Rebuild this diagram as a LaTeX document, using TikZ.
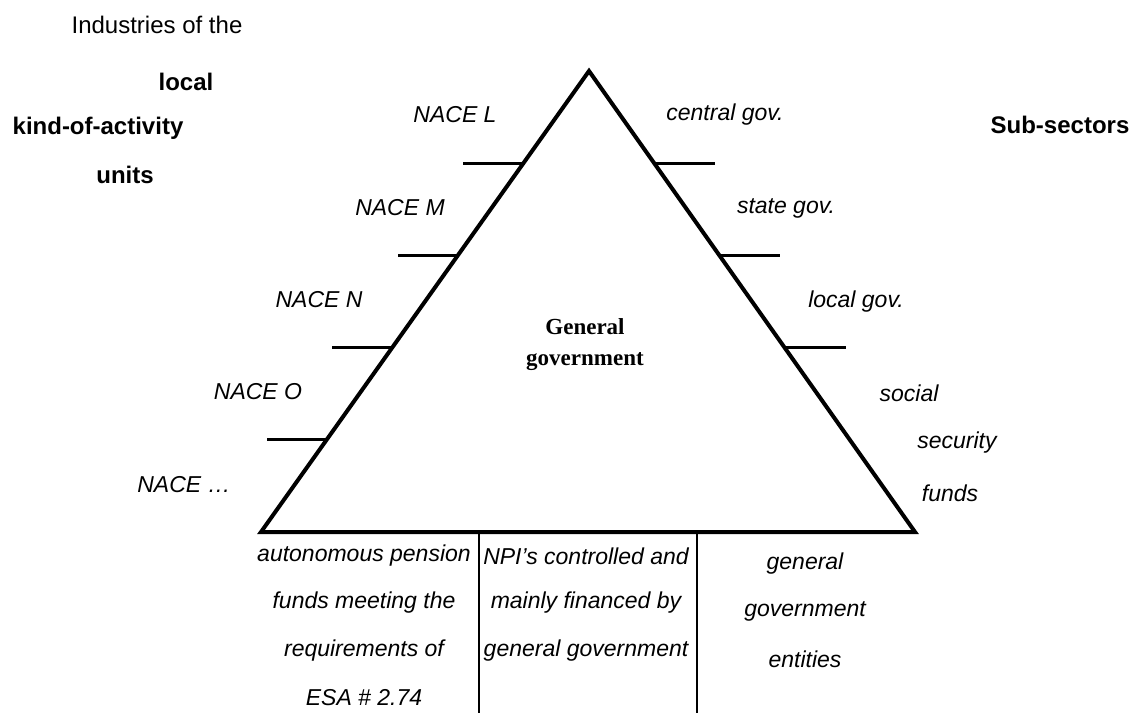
\documentclass[tikz,border=0pt]{standalone}
\usepackage{fontspec}
\setmainfont{Liberation Sans}
\newfontfamily\serifbold{Liberation Serif}
\usetikzlibrary{calc}
\begin{document}
\begin{tikzpicture}[x=1pt,y=-1pt,
  lab/.style={font=\fontsize{23}{27}\selectfont\itshape, inner sep=0pt},
  head/.style={font=\fontsize{24}{28}\selectfont\bfseries, inner sep=0pt},
  plain/.style={font=\fontsize{24}{28}\selectfont, inner sep=0pt},
  triline/.style={line width=4pt, line join=miter},
  tickline/.style={line width=3pt},
  sepline/.style={line width=2.5pt}]
\useasboundingbox (0,0) rectangle (1137,713);
% triangle
\coordinate (apex) at (589,71);
\coordinate (bl) at (261,532);
\coordinate (br) at (915,532);
\coordinate (bottom) at (0,713);
\draw[triline] (apex) -- (bl) -- (br) -- cycle;
% left ticks
\foreach \t/\n in {0.2/1,0.4/2,0.6/3,0.8/4}{
  \coordinate (l\n) at ($(apex)!\t!(bl)$);
  \draw[tickline] (l\n) -- ++(-60,0);
}
% right ticks
\foreach \t/\n in {0.2/1,0.4/2,0.6/3}{
  \coordinate (r\n) at ($(apex)!\t!(br)$);
  \draw[tickline] (r\n) -- ++(61,0);
}
% base separators
\coordinate (b1) at ($(bl)!1/3!(br)$);
\coordinate (b2) at ($(bl)!2/3!(br)$);
\draw[sepline] (b1) -- (b1 |- bottom);
\draw[sepline] (b2) -- (b2 |- bottom);
% headings
\node[plain] (ind) at (157,25) {Industries of the};
\node[head] (loc) at (186,82) {local};
\node[head] (koa) at (98,128) {kind-of-activity};
\node[head] (uni) at (125,175) {units};
\node[head] (sub) at (1060,125) {Sub-sectors};
% centre
\node[inner sep=0pt, align=center, font=\fontsize{23}{31}\selectfont\serifbold\bfseries] (gg) at (585,345) {General\\government};
% NACE labels
\node[lab] (nl) at (455,115) {NACE L};
\node[lab] (nm) at (400,208) {NACE M};
\node[lab] (nn) at (319,300) {NACE N};
\node[lab] (no) at (258,392) {NACE O};
\node[lab] (nd) at (184,485) {NACE \dots};
% sub-sector labels
\node[lab] (cg) at (725,115) {central gov.};
\node[lab] (sg) at (786,208) {state gov.};
\node[lab] (lg) at (856,302) {local gov.};
\node[lab] (so) at (909,393) {social};
\node[lab] (se) at (957,443) {security};
\node[lab] (fu) at (950,493) {funds};
% bottom columns
\node[lab] (c1a) at (364,556) {autonomous pension};
\node[lab] (c1b) at (364,603) {funds meeting the};
\node[lab] (c1c) at (364,651) {requirements of};
\node[lab] (c1d) at (364,698) {ESA \# 2.74};
\node[lab] (c2a) at (586,556) {NPI’s controlled and};
\node[lab] (c2b) at (586,603) {mainly financed by};
\node[lab] (c2c) at (586,651) {general government};
\node[lab] (c3a) at (805,564) {general};
\node[lab] (c3b) at (805,611) {government};
\node[lab] (c3c) at (805,659) {entities};
\end{tikzpicture}
\end{document}
